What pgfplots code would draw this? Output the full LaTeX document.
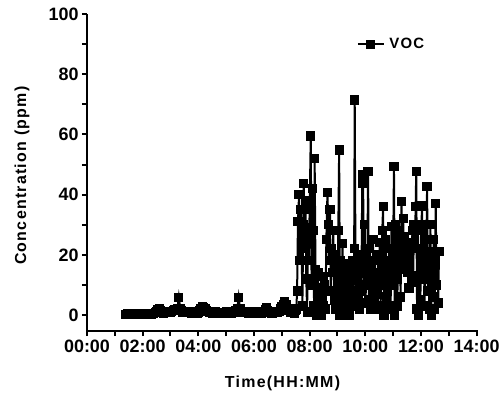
\documentclass[border=0pt]{standalone}
\usepackage{fontspec}
\setmainfont{Liberation Sans}
\usepackage{pgfplots}
\pgfplotsset{compat=1.18}
\pgfplotstableread{
x y
1.40 0.3
1.45 0.5
1.50 0.2
1.55 0.6
1.60 0.4
1.65 0.1
1.70 0.5
1.75 0.3
1.80 0.6
1.85 0.2
1.90 0.4
1.95 0.5
2.00 0.3
2.05 0.1
2.10 0.4
2.15 0.6
2.20 0.3
2.25 0.5
2.30 0.2
2.35 0.4
2.40 0.6
2.45 0.9
2.50 1.2
2.55 1.8
2.60 2.0
2.65 1.6
2.70 1.0
2.75 0.6
2.80 0.8
2.85 1.0
2.90 1.3
2.95 1.1
3.00 0.9
3.05 1.2
3.10 1.5
3.15 1.8
3.20 1.4
3.25 2.0
3.30 5.9
3.35 2.2
3.40 1.5
3.45 1.0
3.50 1.2
3.55 0.8
3.60 1.0
3.65 1.3
3.70 0.9
3.75 0.7
3.80 0.8
3.85 1.1
3.90 0.9
3.95 0.6
4.00 0.8
4.05 1.5
4.10 2.2
4.15 2.8
4.20 2.5
4.25 2.0
4.30 1.6
4.35 1.2
4.40 0.9
4.45 1.0
4.50 0.7
4.55 0.9
4.60 1.2
4.65 0.8
4.70 0.6
4.75 0.5
4.80 0.7
4.85 0.4
4.90 0.6
4.95 0.8
5.00 1.0
5.05 1.2
5.10 0.9
5.15 0.7
5.20 0.5
5.25 0.8
5.30 1.0
5.35 1.6
5.40 2.1
5.45 5.9
5.50 2.0
5.55 1.3
5.60 1.0
5.65 0.8
5.70 1.1
5.75 0.9
5.80 0.7
5.85 1.0
5.90 0.8
5.95 0.6
6.00 0.9
6.05 1.1
6.10 0.8
6.15 1.2
6.20 1.0
6.25 0.7
6.30 0.9
6.35 1.2
6.40 1.8
6.45 2.6
6.50 1.4
6.55 1.1
6.60 0.9
6.65 0.7
6.70 1.0
6.75 1.3
6.80 1.1
6.85 0.9
6.90 1.2
6.95 2.0
7.00 2.8
7.05 3.6
7.10 4.5
7.15 3.4
7.20 2.2
7.25 1.5
7.30 1.0
7.35 0.8
7.40 1.2
7.45 0.6
7.50 1.4
7.52 2
7.55 8
7.58 31
7.62 40
7.65 18
7.68 35
7.71 25
7.74 3
7.77 30
7.79 43.8
7.82 22
7.85 38
7.88 12
7.91 1
7.94 29
7.97 18
8.00 35
8.04 59.5
8.07 10
8.10 42
8.13 28
8.16 3
8.18 52
8.21 15
8.24 0
8.27 8
8.30 14
8.33 2
8.36 9
8.39 5
8.42 0
8.45 6
8.48 12.7
8.51 3
8.54 10
8.57 2
8.60 25
8.64 40.6
8.67 30
8.70 18
8.73 35
8.76 8
8.79 22
8.82 14
8.85 28
8.88 5
8.91 20
8.94 2
8.97 15
9.00 6
9.03 28
9.06 54.8
9.09 0
9.12 18
9.15 8
9.18 23.8
9.21 4
9.24 14
9.27 2
9.30 10
9.33 17
9.36 5
9.39 12
9.42 0
9.45 8
9.48 15
9.51 3
9.54 18
9.57 7
9.60 22
9.62 71.4
9.65 12
9.68 3
9.71 17
9.74 6
9.77 20
9.80 2
9.83 14
9.86 8
9.89 43.8
9.92 46.5
9.95 10
9.98 30
10.01 4
10.04 20
10.07 12
10.10 47.6
10.13 5
10.16 22
10.19 2
10.22 16
10.25 9
10.28 25
10.31 4
10.34 18
10.37 7
10.40 14
10.43 2
10.46 20
10.49 10
10.52 24
10.55 3
10.58 15
10.61 28
10.64 36
10.67 0
10.70 12
10.73 25
10.76 6
10.79 18
10.82 3
10.85 22
10.88 10
10.91 2
10.94 29.3
10.97 14
11.00 20
11.03 49.3
11.06 0
11.09 30
11.12 12
11.15 3
11.18 25
11.21 18
11.24 28
11.27 6
11.30 37.6
11.33 15
11.36 32
11.39 20
11.42 26
11.45 17
11.48 23
11.51 14
11.54 20
11.57 9
11.60 18
11.63 24
11.66 11
11.69 28
11.72 13
11.75 30
11.78 22
11.81 36
11.83 47.6
11.86 2
11.89 30
11.92 0
11.95 22
11.98 5
12.01 28
12.04 36.2
12.07 12
12.10 30
12.13 3
12.16 25
12.19 15
12.22 42.6
12.25 8
12.28 21
12.31 2
12.34 30
12.37 0
12.40 18
12.43 6
12.46 25
12.49 2
12.53 37.1
12.56 10
12.59 21
12.62 4
12.65 21
12.68 21
}\voc
\begin{document}
\begin{tikzpicture}
\useasboundingbox (-87bp,-62bp) rectangle (414bp,331bp);
\begin{axis}[
  at={(0,0)}, anchor=south west,
  scale only axis, width=391bp, height=317bp,
  xmin=0, xmax=14.05, ymin=-5.3, ymax=100,
  axis lines*=left,
  axis line style={line width=2.4bp},
  every tick/.style={black, line width=2bp},
  tick align=outside,
  major tick length=5bp, minor tick length=5bp,
  xtick={0,2,...,14},
  xticklabels={00:00,02:00,04:00,06:00,08:00,10:00,12:00,14:00},
  minor x tick num=1,
  ytick={0,20,...,100},
  minor y tick num=1,
  /pgf/number format/assume math mode=true,
  tick label style={font=\fontsize{18}{20}\selectfont\bfseries},
  xlabel={Time(HH:MM)},
  ylabel={Concentration (ppm)},
  label style={font=\fontsize{16}{18}\selectfont\bfseries\addfontfeatures{LetterSpace=8}},
  xlabel style={at={(axis description cs:0.5,0)}, anchor=center, yshift=-52bp},
  ylabel style={at={(axis description cs:0,0.49)}, anchor=center, yshift=65bp},
  legend style={at={(rel axis cs:0.69,0.905)}, anchor=west, draw=none, fill=none,
    font=\fontsize{15}{17}\selectfont\bfseries\addfontfeatures{LetterSpace=8}, inner sep=0pt},
  legend image code/.code={\draw[mark repeat=2,mark phase=2] plot coordinates {(0cm,0cm) (0.45cm,0cm) (0.9cm,0cm)};},
  legend cell align=left,
  clip=false,
]
\addplot[black, line width=2bp, mark=square*, mark size=3.6bp, mark options={solid}] table[x=x,y=y] {\voc};
\addlegendentry{\hspace{3bp}VOC}
\end{axis}
\end{tikzpicture}
\end{document}
